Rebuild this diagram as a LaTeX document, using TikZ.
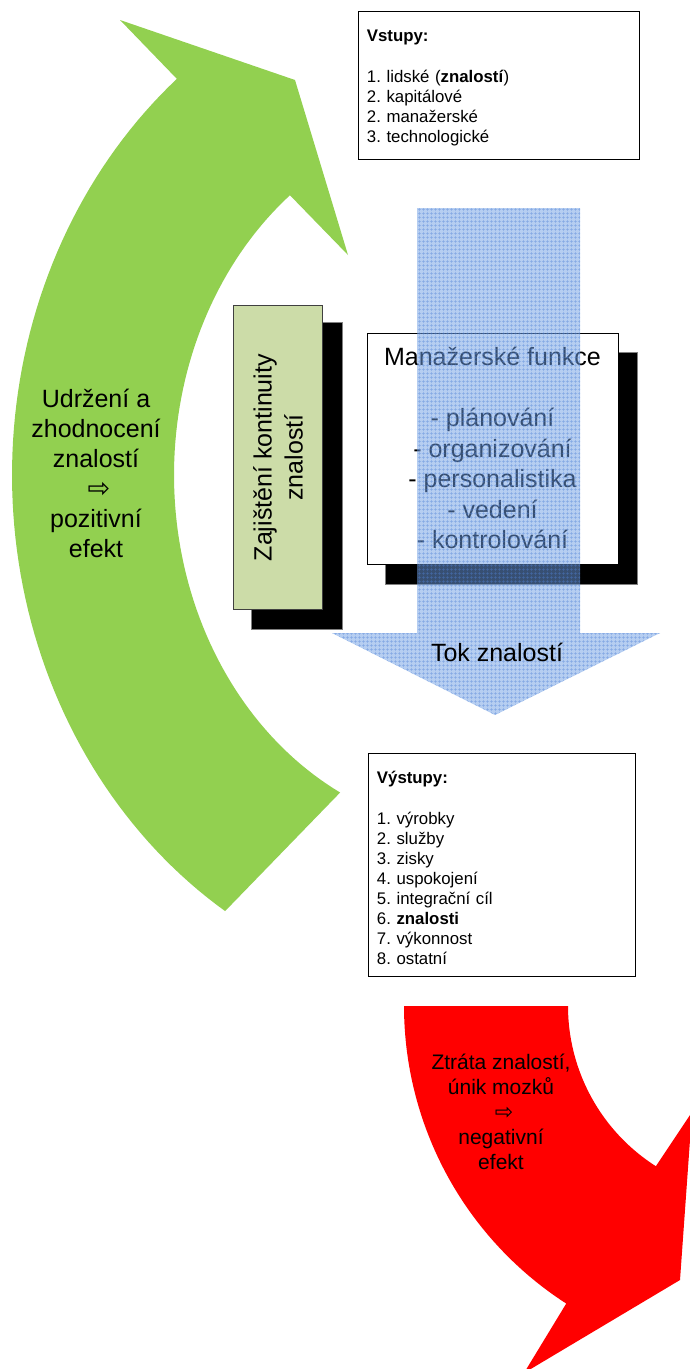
\documentclass[tikz,border=0pt]{standalone}
\usepackage{fontspec}
\setmainfont{Liberation Sans}
\newfontfamily\arrowfont{DejaVu Sans}
\usetikzlibrary{patterns.meta}
\frenchspacing

\definecolor{leafgreen}{RGB}{146,208,80}
\definecolor{olivebox}{RGB}{204,220,168}
\definecolor{flowblue}{RGB}{110,158,228}
\definecolor{flowgrid}{RGB}{80,130,215}
\definecolor{lossred}{RGB}{255,0,0}
\definecolor{edgegray}{RGB}{64,64,64}

\begin{document}
\begin{tikzpicture}[x=1pt,y=-1pt,
  listbox/.style={draw=black, line width=0.9pt, fill=white, inner xsep=8.5pt,
    inner ysep=0pt, align=left, anchor=north west,
    font=\fontsize{16.8}{20}\selectfont},
  dropshadow/.style={fill=black, draw=gray, line width=0.6pt},
  kontbox/.style={fill=olivebox, draw=edgegray, line width=1.3pt, anchor=north west},
  funcbox/.style={fill=white, draw=black, line width=0.9pt, anchor=north west},
  bigtext/.style={align=center, inner sep=0pt, font=\fontsize{25}{30}\selectfont},
  redtext/.style={align=center, inner sep=0pt, font=\fontsize{21}{25}\selectfont},
  flowarrow/.style={preaction={fill=flowblue, fill opacity=0.5},
    pattern={Hatch[angle=0,distance=4pt,line width=0.6pt]},
    pattern color=flowgrid, fill opacity=0.5},
]
\useasboundingbox (0,0) rectangle (690,1369);
\clip (0,0) rectangle (690,1369);

% curved green arrow: retention of knowledge
\fill[leafgreen]
  plot[domain=117.2:231.6, variable=\t, samples=80]
    ({480+306*cos(\t)},{475+357*sin(\t)})
  -- (348,255) -- (295,80) -- (120,20) -- (177,79)
  -- plot[domain=229.7:123, variable=\t, samples=80]
    ({480+468*cos(\t)},{475+520*sin(\t)})
  -- cycle;

% curved red arrow: loss of knowledge
\fill[lossred]
  plot[domain=180:122.8, variable=\t, samples=60]
    ({758+354*cos(\t)},{1006+354*sin(\t)})
  -- (524,1373) -- (680,1280) -- (692,1112) -- (656,1166)
  -- plot[domain=122.5:180, variable=\t, samples=60]
    ({758+190*cos(\t)},{1006+190*sin(\t)})
  -- cycle;

\node[bigtext, anchor=north] (keep) at (96,389)
  {Udržení a\\zhodnocení\\znalostí\\\hspace*{6pt}{\arrowfont\fontsize{27}{30}\selectfont ⇨}\\pozitivní\\efekt};
\node[redtext, anchor=north] (loss) at (501,1054)
  {Ztráta znalostí,\\únik mozků\\\hspace*{6pt}{\arrowfont\fontsize{22}{25}\selectfont ⇨}\\negativní\\efekt};

% inputs and outputs
\node[listbox, text width=264pt, minimum height=148pt] (inputs) at (358,11)
  {\rule{0pt}{16pt}\textbf{Vstupy:}\\[21pt]1. lidské (\textbf{znalostí})\\2. kapitálové\\2. manažerské\\3. technologické};
\node[listbox, text width=250pt, minimum height=223pt] (outputs) at (368,753)
  {\rule{0pt}{19pt}\textbf{Výstupy:}\\[21pt]1. výrobky\\2. služby\\3. zisky\\4. uspokojení\\5. integrační cíl\\6. \textbf{znalosti}\\7. výkonnost\\8. ostatní};

% knowledge continuity box with its shadow
\fill[dropshadow] (251,322) rectangle (342,629);
\node[kontbox, minimum width=89pt, minimum height=304pt] (kont) at (233,305) {};
\node[bigtext, rotate=90, font=\fontsize{25}{31}\selectfont] (konttext) at (kont.center)
  {Zajištění kontinuity\\znalostí};

% managerial functions box with its shadow
\fill[dropshadow] (385,352) rectangle (637,584);
\node[funcbox, minimum width=251pt, minimum height=231pt] (func) at (367,333) {};
\node[bigtext, anchor=north, font=\fontsize{25}{30.5}\selectfont] (functext) at (492.5,347)
  {Manažerské funkce\\[30.5pt]- plánování\\- organizování\\- personalistika\\- vedení\\- kontrolování};

% knowledge flow arrow, translucent over the boxes
\path[flowarrow] (417,208) -- (580,208) -- (580,633) -- (660,633)
  -- (495,715) -- (332,633) -- (417,633) -- cycle;
\node[inner sep=0pt, anchor=base, font=\fontsize{25}{30}\selectfont] (flow) at (497,661) {Tok znalostí};
\end{tikzpicture}
\end{document}
